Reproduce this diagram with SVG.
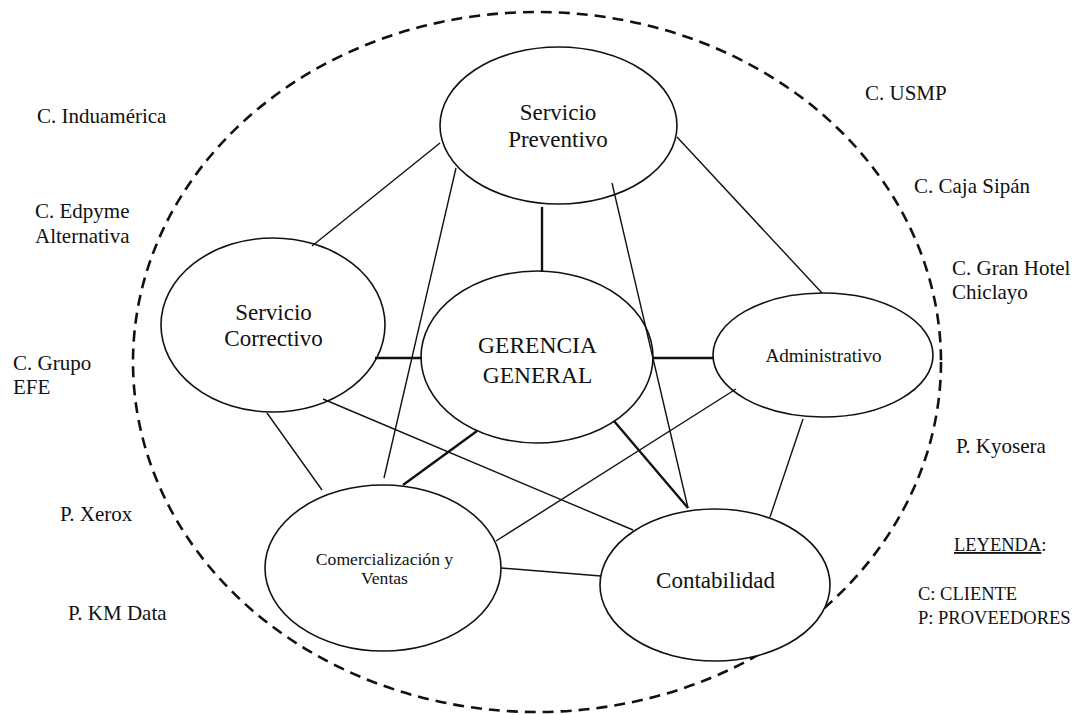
<svg xmlns="http://www.w3.org/2000/svg" width="1081" height="715" viewBox="0 0 1081 715">
<style>
text{font-family:"Liberation Serif","Times New Roman",serif;fill:#111}
.node ellipse{fill:#fff;stroke:#111;stroke-width:1.6}
.c{text-anchor:middle}
.thin{stroke:#111;stroke-width:1.4;fill:none}
.thick{stroke:#111;stroke-width:2.4;fill:none}
.lbl{font-size:21px}
.leg{font-size:18.5px}
</style>
<rect width="1081" height="715" fill="#fff"/>
<g id="boundary">
<ellipse cx="537" cy="362" rx="404" ry="350" fill="none" stroke="#111" stroke-width="2.6" stroke-dasharray="11 7"/>
</g>
<g id="n-preventivo" class="node">
<ellipse cx="558.5" cy="125.5" rx="118.5" ry="78.5"/>
<text class="c" x="558" y="120" font-size="23">Servicio</text>
<text class="c" x="558" y="147" font-size="23">Preventivo</text>
</g>
<g id="n-correctivo" class="node">
<ellipse cx="273" cy="325" rx="112" ry="87"/>
<text class="c" x="273.5" y="320" font-size="23">Servicio</text>
<text class="c" x="273.5" y="346" font-size="23">Correctivo</text>
</g>
<g id="n-gerencia" class="node">
<ellipse cx="537" cy="357" rx="116" ry="86"/>
<text class="c" x="537.5" y="353" font-size="23.5">GERENCIA</text>
<text class="c" x="537.5" y="383" font-size="23.5">GENERAL</text>
</g>
<g id="n-administrativo" class="node">
<ellipse cx="823" cy="355" rx="110" ry="62"/>
<text class="c" x="823.5" y="362" font-size="19.2">Administrativo</text>
</g>
<g id="n-comercializacion" class="node">
<ellipse cx="383" cy="568" rx="118" ry="83"/>
<text class="c" x="384.5" y="564.5" font-size="17.6">Comercialización y</text>
<text class="c" x="384.5" y="584" font-size="17.6">Ventas</text>
</g>
<g id="n-contabilidad" class="node">
<ellipse cx="715" cy="585" rx="115" ry="76"/>
<text class="c" x="715.5" y="588" font-size="23">Contabilidad</text>
</g>
<g id="connectors">
<line class="thin" x1="440" y1="143" x2="312" y2="246"/>
<line class="thin" x1="456" y1="168" x2="384" y2="478"/>
<line class="thick" x1="542" y1="207" x2="542" y2="271"/>
<line class="thin" x1="612" y1="183" x2="688" y2="508"/>
<line class="thin" x1="677" y1="137" x2="822" y2="293"/>
<line class="thick" x1="375" y1="358" x2="422" y2="358"/>
<line class="thin" x1="323" y1="399" x2="633" y2="530"/>
<line class="thin" x1="267" y1="413" x2="322" y2="490"/>
<line class="thick" x1="477" y1="431" x2="403" y2="485"/>
<line class="thick" x1="614" y1="421" x2="688" y2="508"/>
<line class="thick" x1="653" y1="358" x2="713" y2="358"/>
<line class="thin" x1="736" y1="389" x2="496" y2="541"/>
<line class="thin" x1="803" y1="419" x2="770" y2="517"/>
<line class="thin" x1="501" y1="568" x2="601" y2="576"/>
</g>
<g id="labels">
<text class="lbl" x="37" y="123">C. Induamérica</text>
<text class="lbl" x="35" y="218">C. Edpyme</text>
<text class="lbl" x="35" y="243">Alternativa</text>
<text class="lbl" x="13" y="370">C. Grupo</text>
<text class="lbl" x="13" y="394">EFE</text>
<text class="lbl" x="60" y="521">P. Xerox</text>
<text class="lbl" x="68" y="620">P. KM Data</text>
<text class="lbl" x="865" y="100">C. USMP</text>
<text class="lbl" x="914" y="193">C. Caja Sipán</text>
<text class="lbl" x="952" y="275">C. Gran Hotel</text>
<text class="lbl" x="952" y="299">Chiclayo</text>
<text class="lbl" x="956" y="453">P. Kyosera</text>
</g>
<g id="legend">
<text class="leg" x="954" y="551"><tspan text-decoration="underline">LEYENDA</tspan>:</text>
<text class="leg" x="918" y="600">C: CLIENTE</text>
<text class="leg" x="918" y="624">P: PROVEEDORES</text>
</g>
</svg>
